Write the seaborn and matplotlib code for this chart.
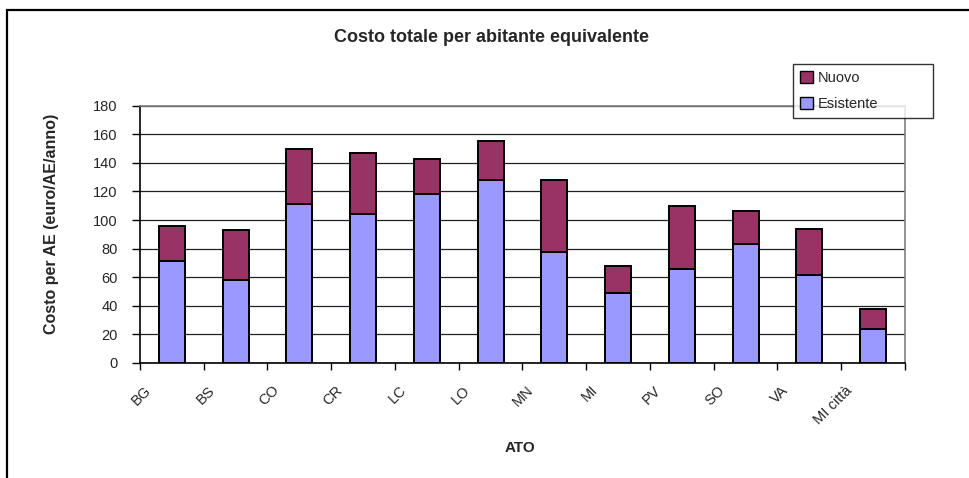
import numpy as np
import pandas as pd
import matplotlib
matplotlib.use("Agg")
import matplotlib.pyplot as plt
import matplotlib.transforms as mtransforms
from matplotlib.patches import Rectangle, Patch
import seaborn as sns

# Cost per equivalent inhabitant by ATO (euro/AE/anno)
ato = ["BG", "BS", "CO", "CR", "LC", "LO", "MN", "MI", "PV", "SO", "VA", "MI città"]
esistente = [71.5, 58, 111, 104.5, 118, 128, 77.5, 49, 66, 83, 61.5, 24]
nuovo = [24, 35, 38.5, 42.5, 25, 27, 50.5, 19, 44, 23.5, 32.5, 14]
y_ticks = [0, 20, 40, 60, 80, 100, 120, 140, 160, 180]

COL_ESIST = "#9999FF"
COL_NUOVO = "#993366"

sns.set_style("white")
plt.rcParams["font.family"] = ["Liberation Sans", "DejaVu Sans"]

df = pd.DataFrame({"ATO": ato, "Esistente": esistente, "Nuovo": nuovo})
df["Totale"] = df["Esistente"] + df["Nuovo"]

W, H = 970, 478
fig = plt.figure(figsize=(W / 100, H / 100), dpi=100)
ax = fig.add_axes([140 / W, 1 - 363 / H, (905 - 140) / W, (363 - 105.7) / H])

# stacked bars: full total in the "Nuovo" colour, existing part drawn over it
sns.barplot(data=df, x="ATO", y="Totale", color=COL_NUOVO, width=0.41,
            edgecolor="black", linewidth=1.4, saturation=1, errorbar=None, ax=ax)
sns.barplot(data=df, x="ATO", y="Esistente", color=COL_ESIST, width=0.41,
            edgecolor="black", linewidth=1.4, saturation=1, errorbar=None, ax=ax)

ax.set_xlim(-0.5, len(ato) - 0.5)
ax.set_ylim(0, 180)
ax.set_yticks(y_ticks)
ax.set_yticklabels([str(v) for v in y_ticks], fontsize=10.5)
ax.yaxis.grid(True, color="#202020", linewidth=0.9)
ax.set_axisbelow(True)

ax.tick_params(axis="x", direction="out", length=5, width=1, color="black",
               pad=13, bottom=True)
ax.tick_params(axis="y", direction="out", length=6, width=1, color="black",
               pad=10, left=True)

# category boundaries carry the tick marks and the labels
ax.set_xticks(np.arange(len(ato) + 1) - 0.5)
ax.set_xticklabels(ato + [""], fontsize=10.5, rotation=45, ha="right",
                   va="center", rotation_mode="anchor")
offset = mtransforms.ScaledTranslation(9 / 100, 0, fig.dpi_scale_trans)
for lab in ax.get_xticklabels():
    lab.set_transform(lab.get_transform() + offset)

ax.set_xlabel("")
ax.set_ylabel("")
for side in ["left", "bottom"]:
    ax.spines[side].set_color("black")
    ax.spines[side].set_linewidth(1.2)
for side in ["top", "right"]:
    ax.spines[side].set_color("#808080")
    ax.spines[side].set_linewidth(1.2)

fig.text(492 / W, 1 - 38 / H, "Costo totale per abitante equivalente",
         ha="center", va="center", fontsize=13, fontweight="bold")
fig.text(52 / W, 1 - 224 / H, "Costo per AE (euro/AE/anno)", rotation=90,
         ha="center", va="center", fontsize=11.5, fontweight="bold")
fig.text(520 / W, 1 - 448 / H, "ATO", ha="center", va="center",
         fontsize=11, fontweight="bold")

handles = [Patch(facecolor=COL_NUOVO, edgecolor="black", label="Nuovo"),
           Patch(facecolor=COL_ESIST, edgecolor="black", label="Esistente")]
leg = fig.legend(handles=handles, loc="upper left", mode="expand",
                 bbox_to_anchor=(793 / W, 1 - 120 / H, 140 / W, 56 / H),
                 fontsize=10.5, frameon=True, fancybox=False, borderpad=0.5,
                 handlelength=0.9, handleheight=0.9, handletextpad=0.3,
                 labelspacing=0.8, borderaxespad=0)
leg.get_frame().set_edgecolor("black")
leg.get_frame().set_linewidth(1)

# outer chart frame
fig.add_artist(Rectangle((7 / W, -0.05), 1.1, 1 - 10 / H + 0.05,
                         transform=fig.transFigure, fill=False,
                         edgecolor="black", linewidth=1.6))

fig.savefig("out.png", dpi=100)
